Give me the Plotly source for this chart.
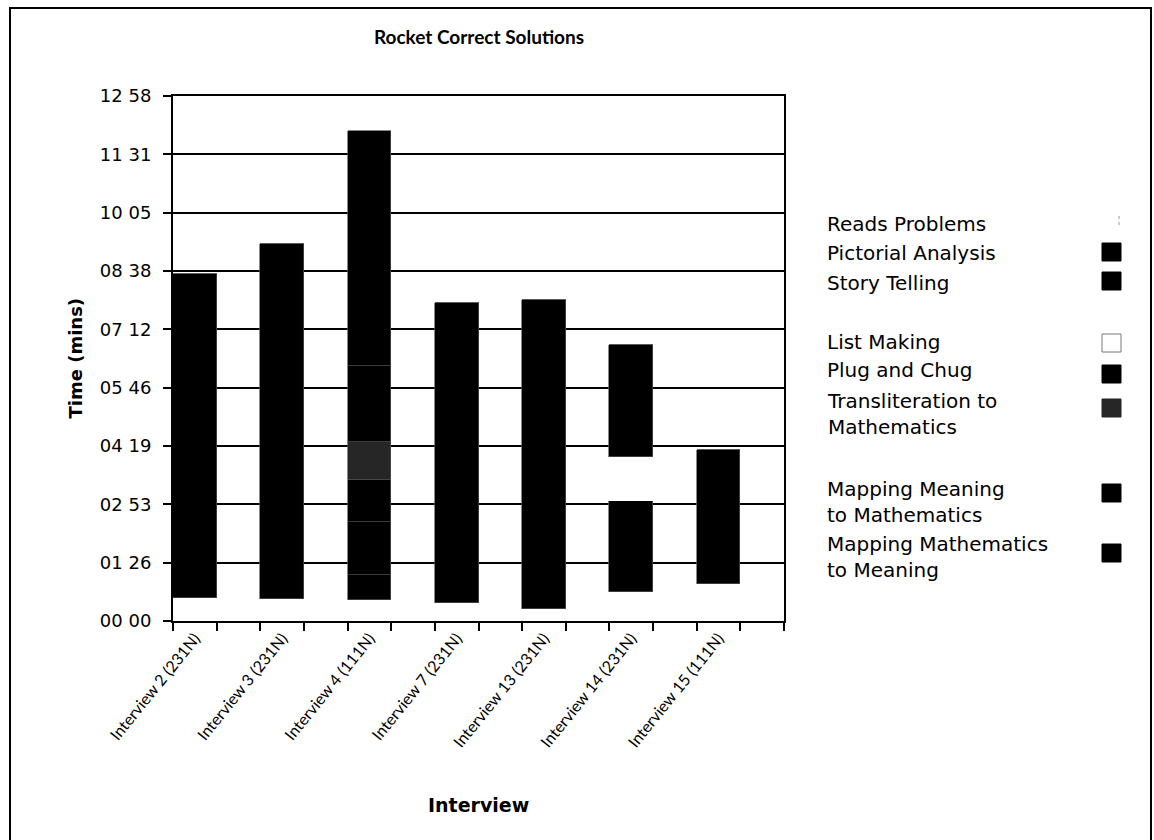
import plotly.graph_objects as go

# ---- data (times in seconds) ----
interviews = [
    "Interview 2 (231N)", "Interview 3 (231N)", "Interview 4 (111N)",
    "Interview 7 (231N)", "Interview 13 (231N)", "Interview 14 (231N)",
    "Interview 15 (111N)",
]
series_names = [
    "Reads Problems", "Pictorial Analysis", "Story Telling", "List Making",
    "Plug and Chug", "Transliteration to Mathematics",
    "Mapping Meaning to Mathematics", "Mapping Mathematics to Meaning",
]
reads_problems = [34, 33, 31, 27, 18, 43, 55]
pictorial_analysis = [0, 0, 37, 0, 0, 135, 0]
story_telling = [0, 0, 79, 0, 0, 0, 0]
list_making = [0, 0, 0, 0, 0, 65, 0]
plug_and_chug = [0, 0, 62, 0, 0, 0, 0]
transliteration = [0, 0, 56, 0, 0, 0, 0]
mapping_meaning_to_math = [480, 525, 113, 444, 457, 166, 198]
mapping_math_to_meaning = [0, 0, 348, 0, 0, 0, 0]

time_ticks = [0, 86.4, 172.8, 259.2, 345.6, 432.0, 518.4, 604.8, 691.2, 777.6]
time_tick_labels = ["00 00", "01 26", "02 53", "04 19", "05 46",
                    "07 12", "08 38", "10 05", "11 31", "12 58"]

series_values = [reads_problems, pictorial_analysis, story_telling, list_making,
                 plug_and_chug, transliteration, mapping_meaning_to_math,
                 mapping_math_to_meaning]

# ---- styling ----
FONT = "DejaVu Sans"
NARROW_FONT = "Liberation Sans Narrow, Arial Narrow, Lato"
fills = ["rgba(0,0,0,0)", "#000000", "#000000", "#ffffff",
         "#000000", "#262626", "#000000", "#000000"]
edges = ["rgba(0,0,0,0)", "#555555", "#555555", "#ffffff",
         "#555555", "#555555", "#555555", "#555555"]

# each interview's bar fills the left half of its slot
bar_x = [i + 0.25 for i in range(len(interviews))]

fig = go.Figure()
for name, vals, fc, ec in zip(series_names, series_values, fills, edges):
    fig.add_trace(go.Bar(
        x=bar_x, y=vals, name=name, width=0.5,
        marker=dict(color=fc, line=dict(color=ec, width=0.7)),
        showlegend=False,
    ))

# plot area in pixels
L, R, T, B = 173, 784, 96, 621
W, H = 1154, 840


def px(xp):
    return (xp - L) / (R - L)


def py(yp):
    return (B - yp) / (B - T)


shapes = [
    # outer chart frame
    dict(type="rect", xref="paper", yref="paper",
         x0=px(10), x1=px(1151), y0=py(860), y1=py(8),
         line=dict(color="black", width=2), fillcolor="rgba(0,0,0,0)"),
]
annotations = []

# legend: label on the left, swatch on the right
legend_labels = ["Reads Problems", "Pictorial Analysis", "Story Telling",
                 "List Making", "Plug and Chug", "Transliteration to<br>Mathematics",
                 "Mapping Meaning<br>to Mathematics", "Mapping Mathematics<br>to Meaning"]
legend_text_y = [224, 253, 283, 342, 370, 414, 502, 557]
legend_swatch_y = [221, 252, 281, 343, 374, 408, 493, 553]
for lab, ty, sy, fc in zip(legend_labels, legend_text_y, legend_swatch_y, fills):
    annotations.append(dict(
        xref="paper", yref="paper", x=px(825), y=py(ty), xanchor="left",
        yanchor="middle", text=lab, showarrow=False, align="left",
        font=dict(family=FONT, size=20, color="black")))
    if lab == "Reads Problems":
        shapes.append(dict(type="line", xref="paper", yref="paper",
                           x0=px(1119), x1=px(1119), y0=py(sy - 5), y1=py(sy + 5),
                           line=dict(color="#9a9a9a", width=1, dash="dot")))
    else:
        shapes.append(dict(type="rect", xref="paper", yref="paper",
                           x0=px(1102), x1=px(1121), y0=py(sy + 9), y1=py(sy - 9),
                           fillcolor=fc,
                           line=dict(color="#777777" if fc == "#ffffff" else fc, width=1)))

# axis titles
annotations.append(dict(xref="paper", yref="paper", x=px(62), y=py(358),
                        text="<b>Time (mins)</b>", textangle=-90, showarrow=False,
                        font=dict(family=FONT, size=18, color="black")))
annotations.append(dict(xref="paper", yref="paper", x=px(478), y=py(818),
                        text="<b>Interview</b>", showarrow=False,
                        font=dict(family=FONT, size=19, color="black")))

fig.update_layout(
    width=W, height=H,
    margin=dict(l=L, r=W - R, t=T, b=H - B),
    paper_bgcolor="white", plot_bgcolor="white",
    barmode="stack", bargap=0,
    title=dict(text="<b>Rocket Correct Solutions</b>", x=px(479), xref="paper",
               xanchor="center", y=1 - 37 / H, yanchor="middle",
               font=dict(family=NARROW_FONT, size=19, color="black")),
    font=dict(family=FONT, color="black"),
    shapes=shapes, annotations=annotations,
)

fig.update_xaxes(
    range=[0, len(interviews)], tickvals=bar_x, ticktext=interviews,
    tickangle=-51, ticks="", showgrid=False, zeroline=False,
    showline=True, linecolor="black", linewidth=1.5, mirror=True,
    tickfont=dict(family=NARROW_FONT, size=16, color="black"),
    minor=dict(ticks="outside", tick0=0, dtick=0.5, ticklen=8,
               tickcolor="black", tickwidth=1.5, showgrid=False),
)
fig.update_yaxes(
    range=[0, 777.6], tickvals=time_ticks, ticktext=time_tick_labels,
    ticks="outside", ticklen=8, tickcolor="black", tickwidth=1.5,
    showgrid=True, gridcolor="black", gridwidth=1.5, zeroline=False,
    showline=True, linecolor="black", linewidth=2, mirror=True,
    tickfont=dict(family=FONT, size=18, color="black"),
    ticklabelstandoff=8,
)

fig.write_html("out.html")
